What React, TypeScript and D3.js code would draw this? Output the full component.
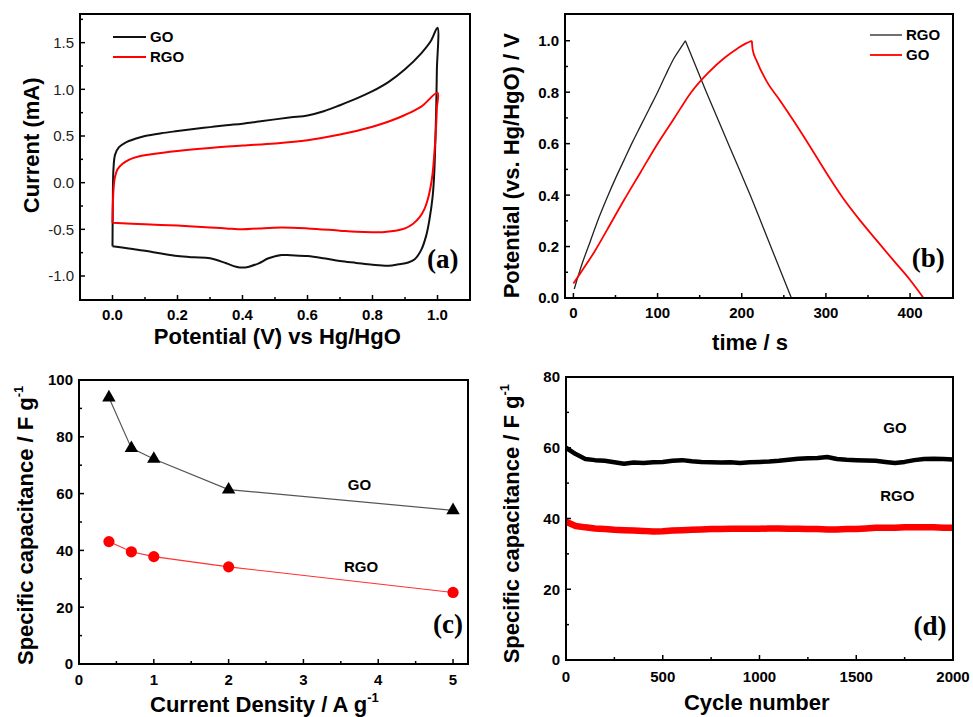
import React, { useEffect, useRef } from "react";
import * as d3 from "d3";

const SANS = "'Liberation Sans', Arial, sans-serif";
const SERIF = "'Liberation Serif', 'Times New Roman', serif";

// (a) cyclic voltammograms, full loop: anodic sweep then cathodic sweep
const goCvPotential = [
  0, 0.001, 0.003, 0.008, 0.02, 0.04, 0.07, 0.1, 0.15, 0.2, 0.25, 0.3, 0.35, 0.4, 0.45, 0.5, 0.55, 0.6,
  0.65, 0.7, 0.75, 0.8, 0.85, 0.9, 0.95, 0.98, 1.0,
  0.998, 0.996, 0.993, 0.99, 0.985, 0.975, 0.965, 0.95, 0.93, 0.91, 0.88, 0.85, 0.8, 0.75, 0.7, 0.65,
  0.6, 0.55, 0.52, 0.48, 0.45, 0.42, 0.4, 0.38, 0.35, 0.3, 0.25, 0.2, 0.15, 0.1, 0.05, 0.0,
];
const goCvCurrent = [
  -0.68, -0.2, 0.15, 0.3, 0.38, 0.43, 0.47, 0.5, 0.53, 0.553, 0.575, 0.595, 0.615, 0.632, 0.655, 0.678,
  0.7, 0.72, 0.765, 0.83, 0.9, 0.98, 1.08, 1.215, 1.386, 1.52, 1.66,
  1.2, 0.8, 0.4, 0.1, -0.15, -0.4, -0.57, -0.72, -0.82, -0.855, -0.875, -0.89, -0.88, -0.86, -0.84, -0.81,
  -0.786, -0.778, -0.775, -0.81, -0.864, -0.9, -0.91, -0.9, -0.864, -0.81, -0.8, -0.786, -0.76, -0.73,
  -0.705, -0.68,
];
const rgoCvPotential = [
  0, 0.001, 0.003, 0.007, 0.015, 0.03, 0.05, 0.08, 0.12, 0.2, 0.3, 0.4, 0.5, 0.6, 0.7, 0.8, 0.85, 0.9,
  0.95, 1.0,
  0.998, 0.995, 0.99, 0.985, 0.978, 0.97, 0.96, 0.945, 0.925, 0.9, 0.87, 0.83, 0.8, 0.75, 0.7, 0.6, 0.52,
  0.45, 0.4, 0.35, 0.3, 0.2, 0.1, 0.0,
];
const rgoCvCurrent = [
  -0.43, -0.25, -0.08, 0.05, 0.14, 0.2, 0.245, 0.28, 0.305, 0.34, 0.372, 0.397, 0.42, 0.455, 0.515, 0.6,
  0.655, 0.725, 0.814, 0.964,
  0.8, 0.55, 0.3, 0.1, -0.06, -0.18, -0.28, -0.37, -0.44, -0.49, -0.515, -0.53, -0.53, -0.525, -0.514,
  -0.49, -0.48, -0.49, -0.5, -0.49, -0.48, -0.46, -0.446, -0.43,
];

// (b) galvanostatic charge / discharge
const rgoGcdTime = [1, 10, 20, 30, 40, 50, 60, 70, 80, 90, 100, 110, 120, 128, 133, 158, 184, 210, 234.5, 259];
const rgoGcdPotential = [
  0.035, 0.13, 0.22, 0.31, 0.39, 0.465, 0.535, 0.605, 0.67, 0.735, 0.8, 0.87, 0.935, 0.975, 1.0, 0.8, 0.6,
  0.4, 0.2, 0.0,
];
const goGcdTime = [
  0, 10, 25, 40, 60, 80, 100, 120, 140, 160, 180, 195, 205, 212, 213, 218, 230, 245, 261, 280, 301, 320, 341,
  360, 380, 400, 416,
];
const goGcdPotential = [
  0.056, 0.105, 0.18, 0.265, 0.38, 0.49, 0.6, 0.7, 0.8, 0.875, 0.935, 0.97, 0.99, 1.0, 0.965, 0.92, 0.84,
  0.77, 0.692, 0.595, 0.484, 0.39, 0.3, 0.225, 0.147, 0.07, 0.0,
];

// (c) rate capability
const currentDensity = [0.4, 0.7, 1, 2, 5];
const goCapacitance = [93.8, 76, 72.2, 61.4, 54.1];
const rgoCapacitance = [43.1, 39.5, 37.8, 34.2, 25.2];

// (d) cycling stability
const cycles = [
  0, 50, 100, 150, 200, 250, 300, 350, 400, 450, 500, 550, 600, 650, 700, 750, 800, 850, 900, 950, 1000,
  1050, 1100, 1150, 1200, 1250, 1300, 1350, 1400, 1450, 1500, 1550, 1600, 1650, 1700, 1750, 1800, 1850,
  1900, 1950, 2000,
];
const goCycleCap = [
  60.0, 58.2, 56.8, 56.5, 56.3, 55.9, 55.5, 55.8, 55.7, 55.9, 56.0, 56.3, 56.5, 56.2, 56.0, 55.9, 55.8,
  55.9, 55.7, 55.9, 56.0, 56.1, 56.3, 56.6, 56.9, 57.0, 57.1, 57.4, 56.8, 56.6, 56.5, 56.4, 56.3, 56.0,
  55.7, 56.0, 56.5, 56.8, 56.9, 56.8, 56.7,
];
const rgoCycleCap = [
  39.1, 37.9, 37.5, 37.2, 37.0, 36.8, 36.7, 36.6, 36.5, 36.3, 36.4, 36.6, 36.7, 36.8, 36.9, 37.0, 37.0,
  37.1, 37.1, 37.1, 37.1, 37.2, 37.2, 37.1, 37.1, 37.0, 37.0, 36.9, 36.9, 37.0, 37.0, 37.2, 37.4, 37.4,
  37.4, 37.5, 37.5, 37.5, 37.5, 37.4, 37.4,
];

// ticks
const aXTicks = [0, 0.2, 0.4, 0.6, 0.8, 1.0];
const aXMinor = [0.1, 0.3, 0.5, 0.7, 0.9];
const aYTicks = [-1.0, -0.5, 0, 0.5, 1.0, 1.5];
const aYMinor = [-0.75, -0.25, 0.25, 0.75, 1.25, 1.75];
const bXTicks = [0, 100, 200, 300, 400];
const bXMinor = [50, 150, 250, 350];
const bYTicks = [0, 0.2, 0.4, 0.6, 0.8, 1.0];
const bYMinor = [0.1, 0.3, 0.5, 0.7, 0.9];
const cXTicks = [0, 1, 2, 3, 4, 5];
const cXMinor = [0.5, 1.5, 2.5, 3.5, 4.5];
const cYTicks = [0, 20, 40, 60, 80, 100];
const cYMinor = [10, 30, 50, 70, 90];
const dXTicks = [0, 500, 1000, 1500, 2000];
const dXMinor = [250, 750, 1250, 1750];
const dYTicks = [0, 20, 40, 60, 80];
const dYMinor = [10, 30, 50, 70];

type Sel = d3.Selection<SVGGElement, unknown, null, undefined>;

// frame with inward ticks on bottom and left only
function drawFrame(g: Sel, x: any, y: any, o: any) {
  const [x0, x1] = x.range();
  const [y0, y1] = y.range();
  const major = 5;
  const minor = 3;
  o.xTicks.forEach((v: number) => {
    g.append("line").attr("x1", x(v)).attr("x2", x(v)).attr("y1", y0).attr("y2", y0 - major)
      .attr("stroke", "#000").attr("stroke-width", 1.5);
    g.append("text").attr("x", x(v)).attr("y", y0 + o.xLabelGap).attr("text-anchor", "middle")
      .attr("font-family", SANS).attr("font-weight", "bold").attr("font-size", 15).text(o.xFmt(v));
  });
  o.xMinor.forEach((v: number) => {
    g.append("line").attr("x1", x(v)).attr("x2", x(v)).attr("y1", y0).attr("y2", y0 - minor)
      .attr("stroke", "#000").attr("stroke-width", 1.5);
  });
  o.yTicks.forEach((v: number) => {
    g.append("line").attr("x1", x0).attr("x2", x0 + major).attr("y1", y(v)).attr("y2", y(v))
      .attr("stroke", "#000").attr("stroke-width", 1.5);
    g.append("text").attr("x", x0 - 6).attr("y", y(v)).attr("dy", "0.36em").attr("text-anchor", "end")
      .attr("font-family", SANS).attr("font-weight", o.yWeight || "bold").attr("font-size", 15)
      .attr("fill", o.yWeight === "normal" ? "#222" : "#000").text(o.yFmt(v));
  });
  o.yMinor.forEach((v: number) => {
    g.append("line").attr("x1", x0).attr("x2", x0 + minor).attr("y1", y(v)).attr("y2", y(v))
      .attr("stroke", "#000").attr("stroke-width", 1.5);
  });
  g.append("rect").attr("x", x0).attr("y", y1).attr("width", x1 - x0).attr("height", y0 - y1)
    .attr("fill", "none").attr("stroke", "#000").attr("stroke-width", 2);
}

function title(g: Sel, text: string, px: number, py: number, anchor: string, rotate: boolean, sup?: string) {
  const t = g.append("text").attr("font-family", SANS).attr("font-weight", "bold").attr("font-size", 22)
    .attr("text-anchor", anchor)
    .attr("transform", rotate ? `translate(${px},${py}) rotate(-90)` : `translate(${px},${py})`);
  t.append("tspan").text(text);
  if (sup) t.append("tspan").attr("font-size", 13).attr("dy", -10).text(sup);
}

function panelLabel(g: Sel, text: string, px: number, py: number) {
  g.append("text").attr("x", px).attr("y", py).attr("text-anchor", "middle").attr("font-family", SERIF)
    .attr("font-weight", "bold").attr("font-size", 27).text(text);
}

function legendRow(g: Sel, px: number, py: number, len: number, color: string, w: number, label: string) {
  g.append("line").attr("x1", px).attr("x2", px + len).attr("y1", py).attr("y2", py)
    .attr("stroke", color).attr("stroke-width", w);
  g.append("text").attr("x", px + len + 4).attr("y", py).attr("dy", "0.36em").attr("font-family", SANS)
    .attr("font-weight", "bold").attr("font-size", 15).text(label);
}

function plainLabel(g: Sel, text: string, px: number, py: number) {
  g.append("text").attr("x", px).attr("y", py).attr("dy", "0.36em").attr("text-anchor", "middle")
    .attr("font-family", SANS).attr("font-weight", "bold").attr("font-size", 15).text(text);
}

const fmt1 = (v: number) => (v < 0 ? "-" : "") + Math.abs(v).toFixed(1);
const fmt0 = (v: number) => String(v);

function drawCv(g: Sel) {
  const x = d3.scaleLinear().domain([-0.1, 1.1]).range([80, 470]);
  const y = d3.scaleLinear().domain([-1.257, 1.807]).range([300, 14]);
  const loop = (vs: number[], is: number[]) =>
    d3.line<number>().x((d) => x(d)).y((d, i) => y(is[i])).curve(d3.curveCatmullRom.alpha(0.5))(vs) as string;
  g.append("path").attr("d", loop(goCvPotential, goCvCurrent)).attr("fill", "none")
    .attr("stroke", "#111").attr("stroke-width", 2).attr("stroke-linejoin", "round");
  g.append("path").attr("d", loop(rgoCvPotential, rgoCvCurrent)).attr("fill", "none")
    .attr("stroke", "#ff0000").attr("stroke-width", 2).attr("stroke-linejoin", "round");
  drawFrame(g, x, y, {
    xTicks: aXTicks, xMinor: aXMinor, yTicks: aYTicks, yMinor: aYMinor,
    xFmt: fmt1, yFmt: fmt1, xLabelGap: 20, yWeight: "normal",
  });
  legendRow(g, 113, 37, 33, "#111", 2, "GO");
  legendRow(g, 113, 57, 33, "#ff0000", 2, "RGO");
  title(g, "Current (mA)", 38.5, 145.3, "middle", true);
  title(g, "Potential (V) vs Hg/HgO", 277.3, 344, "middle", false);
  panelLabel(g, "(a)", 442.7, 268);
}

function drawGcd(g: Sel) {
  const x = d3.scaleLinear().domain([-10, 451]).range([565, 953]);
  const y = d3.scaleLinear().domain([0, 1.104]).range([298, 14]);
  // charge and discharge branches drawn as separate smooth segments so the turning point stays sharp
  const branches = (ts: number[], vs: number[]) => {
    const k = vs.indexOf(d3.max(vs) as number);
    const mk = d3.line<number>().x((d) => x(d)).curve(d3.curveMonotoneX);
    const up = mk.y((d, i) => y(vs[i]))(ts.slice(0, k + 1)) as string;
    const down = mk.y((d, i) => y(vs[k + i]))(ts.slice(k)) as string;
    return up + down;
  };
  g.append("path").attr("d", branches(rgoGcdTime, rgoGcdPotential)).attr("fill", "none")
    .attr("stroke", "#222").attr("stroke-width", 1.3);
  g.append("path").attr("d", branches(goGcdTime, goGcdPotential)).attr("fill", "none")
    .attr("stroke", "#ff0000").attr("stroke-width", 1.8);
  drawFrame(g, x, y, {
    xTicks: bXTicks, xMinor: bXMinor, yTicks: bYTicks, yMinor: bYMinor,
    xFmt: fmt0, yFmt: fmt1, xLabelGap: 20,
  });
  legendRow(g, 870, 35, 32, "#222", 1.3, "RGO");
  legendRow(g, 870, 55, 32, "#ff0000", 1.8, "GO");
  title(g, "Potential (vs. Hg/HgO) / V", 519, 165.7, "middle", true);
  title(g, "time / s", 750, 350, "middle", false);
  panelLabel(g, "(b)", 928.3, 266.7);
}

function drawRate(g: Sel) {
  const x = d3.scaleLinear().domain([0, 5.2]).range([79, 468]);
  const y = d3.scaleLinear().domain([0, 100]).range([664, 380]);
  const line = d3.line<number>().x((d) => x(d));
  g.append("path").attr("d", line.y((d, i) => y(goCapacitance[i]))(currentDensity) as string)
    .attr("fill", "none").attr("stroke", "#555").attr("stroke-width", 1.2);
  g.append("path").attr("d", line.y((d, i) => y(rgoCapacitance[i]))(currentDensity) as string)
    .attr("fill", "none").attr("stroke", "#ff3030").attr("stroke-width", 1.1);
  const tri = d3.symbol().type(d3.symbolTriangle).size(78);
  g.selectAll("path.tri").data(currentDensity).enter().append("path").attr("class", "tri")
    .attr("d", tri as any).attr("fill", "#000")
    .attr("transform", (d, i) => `translate(${x(d)},${y(goCapacitance[i])})`);
  g.selectAll("circle.dot").data(currentDensity).enter().append("circle").attr("class", "dot")
    .attr("cx", (d) => x(d)).attr("cy", (d, i) => y(rgoCapacitance[i])).attr("r", 5.6)
    .attr("fill", "#ff0000");
  drawFrame(g, x, y, {
    xTicks: cXTicks, xMinor: cXMinor, yTicks: cYTicks, yMinor: cYMinor,
    xFmt: fmt0, yFmt: fmt0, xLabelGap: 21,
  });
  plainLabel(g, "GO", x(3.75), y(63));
  plainLabel(g, "RGO", x(3.77), y(34.3));
  title(g, "Specific capacitance / F g", 33, 665, "start", true, "-1");
  title(g, "Current Density / A g", 150, 711.7, "start", false, "-1");
  panelLabel(g, "(c)", 448, 633);
}

function drawCycle(g: Sel) {
  const x = d3.scaleLinear().domain([0, 2000]).range([566, 953]);
  const y = d3.scaleLinear().domain([0, 80]).range([660, 377]);
  const path = (vals: number[]) =>
    d3.line<number>().x((d) => x(d)).y((d, i) => y(vals[i]))(cycles) as string;
  g.append("path").attr("d", path(goCycleCap)).attr("fill", "none").attr("stroke", "#000")
    .attr("stroke-width", 4.5).attr("stroke-linejoin", "round");
  g.append("path").attr("d", path(rgoCycleCap)).attr("fill", "none").attr("stroke", "#ff0000")
    .attr("stroke-width", 6.5).attr("stroke-linejoin", "round");
  drawFrame(g, x, y, {
    xTicks: dXTicks, xMinor: dXMinor, yTicks: dYTicks, yMinor: dYMinor,
    xFmt: fmt0, yFmt: fmt0, xLabelGap: 22,
  });
  plainLabel(g, "GO", x(1700), y(65.8));
  plainLabel(g, "RGO", x(1712), y(46.5));
  title(g, "Specific capacitance / F g", 519, 663.3, "start", true, "-1");
  title(g, "Cycle number", 756.7, 710, "middle", false);
  panelLabel(g, "(d)", 930, 635);
}

export default function App() {
  const ref = useRef<SVGSVGElement>(null);
  useEffect(() => {
    const svg = d3.select(ref.current);
    svg.selectAll("*").remove();
    const root = svg.append("g") as unknown as Sel;
    drawCv(root);
    drawGcd(root);
    drawRate(root);
    drawCycle(root);
  }, []);
  return (
    <svg
      ref={ref}
      width={973}
      height={717}
      style={{ position: "absolute", left: 0, top: 0, background: "#fff" }}
    />
  );
}
